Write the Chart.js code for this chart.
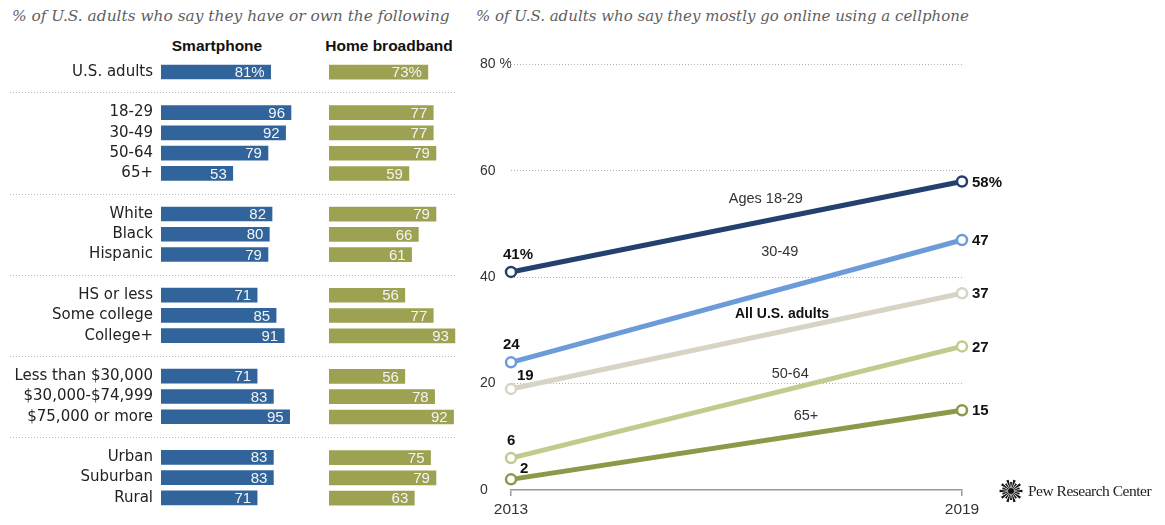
<!DOCTYPE html>
<html>
<head>
<meta charset="utf-8">
<script src="https://cdn.jsdelivr.net/npm/chart.js@4.4.1/dist/chart.umd.min.js"></script>
<style>
  body { margin: 0; background: #fff; }
  #wrap { position: relative; width: 1165px; height: 525px; overflow: hidden; background: #fff;
          font-family: "Liberation Sans", Arial, sans-serif; }
  .title { position: absolute; top: 7px; font-family: "DejaVu Serif", Georgia, serif; font-style: italic;
           color: #5f5f5f; white-space: nowrap; }
  .head { position: absolute; top: 37px; font-weight: bold; font-size: 15.5px; color: #111;
          transform: translateX(-50%); white-space: nowrap; }
  canvas { position: absolute; top: 0; }
  #logo { position: absolute; left: 999px; top: 479px; height: 24px; display: flex; align-items: center; }
  #logo span { font-family: "Liberation Serif", "Times New Roman", serif; font-size: 15.5px; color: #222;
               margin-left: 5px; letter-spacing: -0.5px; }
</style>
</head>
<body>
<div id="wrap">
  <div class="title" style="left:12px;font-size:15.4px">% of U.S. adults who say they have or own the following</div>
  <div class="title" style="left:476px;font-size:15px">% of U.S. adults who say they mostly go online using a cellphone</div>
  <div class="head" style="left:217px">Smartphone</div>
  <div class="head" style="left:389px">Home broadband</div>
  <canvas id="bars1" width="470" height="525" style="left:0"></canvas>
  <canvas id="bars2" width="150" height="525" style="left:320px"></canvas>
  <canvas id="lines" width="695" height="525" style="left:470px"></canvas>
  <div id="logo"><canvas id="burst" width="24" height="24" style="position:static"></canvas><span>Pew Research Center</span></div>
</div>
<script>
// left panel: groups of rows, separated by dotted lines
var groups = [
  ["U.S. adults"],
  ["18-29", "30-49", "50-64", "65+"],
  ["White", "Black", "Hispanic"],
  ["HS or less", "Some college", "College+"],
  ["Less than $30,000", "$30,000-$74,999", "$75,000 or more"],
  ["Urban", "Suburban", "Rural"]
];
var smartphone = [81, 96, 92, 79, 53, 82, 80, 79, 71, 85, 91, 71, 83, 95, 83, 83, 71];
var broadband  = [73, 77, 77, 79, 59, 79, 66, 61, 56, 77, 93, 56, 78, 92, 75, 79, 63];

// right panel
var years = ["2013", "2019"];
var seriesNames = ["Ages 18-29", "30-49", "All U.S. adults", "50-64", "65+"];
var ages1829 = [41, 58];
var ages3049 = [24, 47];
var allAdults = [19, 37];
var ages5064 = [6, 27];
var ages65 = [2, 15];
var yTicks = [0, 20, 40, 60, 80];
var yTickLabels = ["0", "20", "40", "60", "80 %"];

Chart.defaults.font.family = '"Liberation Sans", Arial, sans-serif';
Chart.defaults.animation = false;

// build rows with a blank spacer row between groups
var rowLabels = [], phoneRows = [], bbRows = [], spacerRows = [];
var k = 0;
groups.forEach(function(g, gi) {
  if (gi > 0) {
    spacerRows.push(rowLabels.length);
    rowLabels.push("");
    phoneRows.push(null);
    bbRows.push(null);
  }
  g.forEach(function(name) {
    rowLabels.push(name);
    phoneRows.push(smartphone[k]);
    bbRows.push(broadband[k]);
    k++;
  });
});

var barValueLabels = {
  id: "barValueLabels",
  afterDatasetsDraw: function(chart) {
    var ctx = chart.ctx;
    var meta = chart.getDatasetMeta(0);
    var vals = chart.data.datasets[0].data;
    ctx.save();
    ctx.font = '15px "Liberation Sans", Arial, sans-serif';
    ctx.fillStyle = "#f4f4f4";
    ctx.textAlign = "right";
    ctx.textBaseline = "middle";
    meta.data.forEach(function(bar, i) {
      if (vals[i] == null) return;
      var txt = i === 0 ? vals[i] + "%" : String(vals[i]);
      ctx.fillText(txt, bar.x - 6, bar.y + 1);
    });
    ctx.restore();
  }
};

var separators = {
  id: "separators",
  beforeDraw: function(chart) {
    var ctx = chart.ctx;
    var y = chart.scales.y;
    ctx.save();
    ctx.strokeStyle = "#b8b8b8";
    ctx.lineWidth = 1;
    ctx.setLineDash([1, 2]);
    spacerRows.forEach(function(r) {
      var py = Math.round(y.getPixelForValue(r)) + 0.5;
      ctx.beginPath();
      ctx.moveTo(10, py);
      ctx.lineTo(455, py);
      ctx.stroke();
    });
    ctx.restore();
  }
};

function barOptions(showLabels, pad) {
  var yAxis = {
    display: showLabels,
    grid: { display: false, drawTicks: false },
    border: { display: false },
    ticks: { padding: 8, color: "#222", font: { family: '"DejaVu Sans", sans-serif', size: 15 }, autoSkip: false }
  };
  if (showLabels) {
    yAxis.afterFit = function(s) { s.width = 161; };
  }
  return {
    indexAxis: "y",
    responsive: false,
    layout: { padding: pad },
    scales: {
      x: { display: false, min: 0, max: 100 },
      y: yAxis
    },
    plugins: { legend: { display: false }, tooltip: { enabled: false } }
  };
}

new Chart(document.getElementById("bars1"), {
  type: "bar",
  data: { labels: rowLabels, datasets: [{ data: phoneRows, backgroundColor: "#30649a", barThickness: 14 }] },
  options: barOptions(true, { left: 0, right: 173.6, top: 61.9, bottom: 16.7 }),
  plugins: [separators, barValueLabels]
});

new Chart(document.getElementById("bars2"), {
  type: "bar",
  data: { labels: rowLabels, datasets: [{ data: bbRows, backgroundColor: "#9da253", barThickness: 14 }] },
  options: barOptions(false, { left: 9, right: 5.6, top: 61.9, bottom: 16.7 }),
  plugins: [barValueLabels]
});

// label placement for the line chart (pixel offsets)
var startLabelPos = [[-8, -17], [-8, -17], [6, -13], [-4, -17], [9, -11]];
var nameLabelPos = [[0.565, -22], [0.596, -37], [0.601, -17], [0.619, -15], [0.654, -18]];

var lineLabels = {
  id: "lineLabels",
  afterDatasetsDraw: function(chart) {
    var ctx = chart.ctx;
    ctx.save();
    ctx.textBaseline = "middle";
    chart.data.datasets.forEach(function(ds, i) {
      var pts = chart.getDatasetMeta(i).data;
      var p0 = pts[0], p1 = pts[1];
      ctx.fillStyle = "#111";
      ctx.font = 'bold 15px "Liberation Sans", Arial, sans-serif';
      ctx.textAlign = "left";
      ctx.fillText(ds.data[0] + (i === 0 ? "%" : ""), p0.x + startLabelPos[i][0], p0.y + startLabelPos[i][1]);
      ctx.fillText(ds.data[1] + (i === 0 ? "%" : ""), p1.x + 10, p1.y + 1);
      var t = nameLabelPos[i][0];
      var nx = p0.x + t * (p1.x - p0.x);
      var ny = p0.y + t * (p1.y - p0.y) + nameLabelPos[i][1];
      ctx.textAlign = "center";
      if (i === 2) {
        ctx.font = 'bold 14px "Liberation Sans", Arial, sans-serif';
        ctx.fillStyle = "#111";
      } else {
        ctx.font = '14.5px "Liberation Sans", Arial, sans-serif';
        ctx.fillStyle = "#333";
      }
      ctx.fillText(ds.label, nx, ny);
    });
    ctx.restore();
  }
};

var lineColors = ["#24406e", "#6b9bd9", "#d8d4c5", "#bfcc8e", "#8a9a49"];
var lineSeries = [ages1829, ages3049, allAdults, ages5064, ages65];

new Chart(document.getElementById("lines"), {
  type: "line",
  data: {
    labels: years,
    datasets: lineSeries.map(function(vals, i) {
      return {
        label: seriesNames[i],
        data: vals,
        borderColor: lineColors[i],
        borderWidth: 5,
        pointRadius: 5,
        pointBorderWidth: 2.5,
        pointBackgroundColor: "#fff",
        pointBorderColor: lineColors[i],
        clip: false,
        tension: 0
      };
    })
  },
  options: {
    responsive: false,
    layout: { padding: { left: 10, right: 203, top: 64.5, bottom: 0 } },
    scales: {
      x: {
        offset: false,
        grid: { drawOnChartArea: false, drawTicks: true, tickLength: 6, color: "#9a9a9a", lineWidth: 1.5 },
        border: { color: "#9a9a9a", width: 1.5 },
        ticks: { color: "#333", font: { size: 15.5 }, padding: 4, maxRotation: 0 },
        afterFit: function(s) { s.height = 35; }
      },
      y: {
        min: 0, max: 80,
        afterBuildTicks: function(s) { s.ticks = yTicks.map(function(v) { return { value: v }; }); },
        ticks: {
          crossAlign: "far", color: "#333", font: { size: 14 },
          callback: function(v) { return yTickLabels[yTicks.indexOf(v)]; }
        },
        grid: {
          drawTicks: false, lineWidth: 1,
          color: function(c) { return c.tick && c.tick.value === 0 ? "rgba(0,0,0,0)" : "#b0b0b0"; }
        },
        border: { display: false, dash: [1, 2] },
        afterFit: function(s) { s.width = 31; }
      }
    },
    plugins: { legend: { display: false }, tooltip: { enabled: false } }
  },
  plugins: [lineLabels]
});

// Pew sunburst mark
var bc = document.getElementById("burst").getContext("2d");
bc.translate(12, 12);
bc.fillStyle = "#111";
for (var a = 0; a < 20; a++) {
  var ang = a * Math.PI * 2 / 20;
  var r2 = a % 2 ? 9 : 11.5;
  bc.beginPath();
  bc.moveTo(Math.cos(ang - 0.07) * 3, Math.sin(ang - 0.07) * 3);
  bc.lineTo(Math.cos(ang - 0.11) * r2, Math.sin(ang - 0.11) * r2);
  bc.lineTo(Math.cos(ang + 0.11) * r2, Math.sin(ang + 0.11) * r2);
  bc.lineTo(Math.cos(ang + 0.07) * 3, Math.sin(ang + 0.07) * 3);
  bc.fill();
}
bc.beginPath();
bc.arc(0, 0, 3, 0, Math.PI * 2);
bc.fill();
</script>
</body>
</html>
